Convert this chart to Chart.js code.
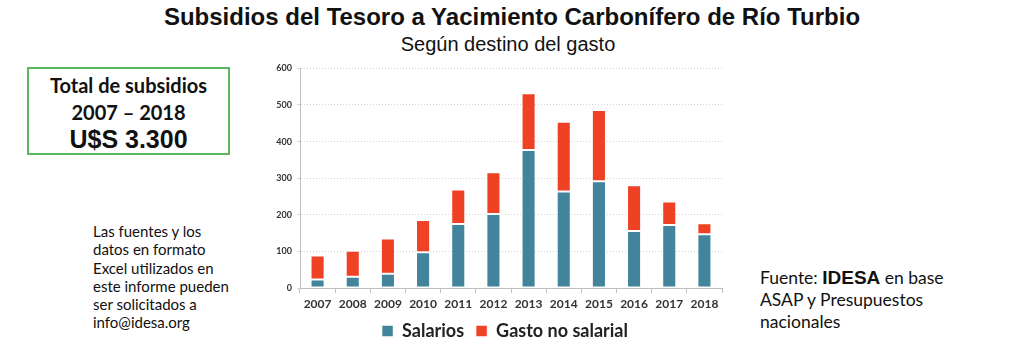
<!DOCTYPE html>
<html>
<head>
<meta charset="utf-8">
<script src="https://cdn.jsdelivr.net/npm/chart.js@4/dist/chart.umd.min.js"></script>
<style>
  body { margin: 0; width: 1024px; height: 350px; background: #fff; position: relative; overflow: hidden; font-family: "Lato", sans-serif; color: #111; }
  .title { position: absolute; left: 0; width: 1024px; top: 3px; text-align: center; font: bold 24px "Liberation Sans", Arial, sans-serif; }
  .subtitle { position: absolute; left: 0; width: 1016px; top: 33px; text-align: center; font: 20px "Liberation Sans", Arial, sans-serif; }
  .totalbox { position: absolute; left: 27px; top: 67px; width: 199px; height: 84px; border: 2px solid #5cb85c; text-align: center; }
  .totalbox .l1 { font: bold 20px "Lato", sans-serif; margin-top: 3px; line-height: 27px; }
  .totalbox .l3 { font: bold 25px "Liberation Sans", Arial, sans-serif; line-height: 26px; }
  .note { position: absolute; left: 93px; top: 222px; font: 15px "Lato", sans-serif; line-height: 18.3px; }
  .source { position: absolute; left: 760px; top: 267px; font: 17.5px "Lato", sans-serif; line-height: 21.5px; }
  .source b { font: bold 19px "Liberation Sans", Arial, sans-serif; }
  .chart-wrap { position: absolute; left: 260px; top: 58px; width: 490px; height: 292px; }
</style>
</head>
<body>
<div class="title">Subsidios del Tesoro a Yacimiento Carbonífero de Río Turbio</div>
<div class="subtitle">Según destino del gasto</div>
<div class="totalbox">
  <div class="l1">Total de subsidios<br>2007 – 2018</div>
  <div class="l3">U$S 3.300</div>
</div>
<div class="note">Las fuentes y los<br>datos en formato<br>Excel utilizados en<br>este informe pueden<br>ser solicitados a<br>info@idesa.org</div>
<div class="source">Fuente: <b>IDESA</b> en base<br>ASAP y Presupuestos<br>nacionales</div>
<div class="chart-wrap"><canvas id="chart"></canvas></div>
<script>
const years = ['2007', '2008', '2009', '2010', '2011', '2012', '2013', '2014', '2015', '2016', '2017', '2018'];
const salarios = [23, 31, 39, 98, 175, 202, 377, 264, 292, 156, 172, 147];
const gastoNoSalarial = [66, 71, 96, 88, 94, 114, 155, 190, 194, 125, 64, 30];
const yTicks = [0, 100, 200, 300, 400, 500, 600];

const ctx = document.getElementById('chart').getContext('2d');
new Chart(ctx, {
  type: 'bar',
  data: {
    labels: years,
    datasets: [
      {
        label: 'Salarios',
        data: salarios,
        backgroundColor: '#41849b',
        borderColor: 'rgba(255,255,255,0.5)',
        borderWidth: 1,
        borderSkipped: false,
        barPercentage: 0.4,
        categoryPercentage: 1
      },
      {
        label: 'Gasto no salarial',
        data: gastoNoSalarial,
        backgroundColor: '#ef4123',
        borderColor: 'rgba(255,255,255,0.5)',
        borderWidth: 1,
        borderSkipped: false,
        barPercentage: 0.4,
        categoryPercentage: 1
      }
    ]
  },
  options: {
    responsive: true,
    maintainAspectRatio: false,
    animation: false,
    layout: { padding: { top: 2, bottom: 0, left: 0, right: 0 } },
    plugins: {
      legend: {
        position: 'bottom',
        labels: {
          color: '#222',
          font: { family: 'Lato', size: 18, weight: 'bold' },
          boxWidth: 11,
          boxHeight: 11,
          padding: 12
        }
      },
      tooltip: { enabled: false }
    },
    scales: {
      x: {
        stacked: true,
        afterFit: (scale) => { scale.height = 22; },
        grid: { offset: true, drawOnChartArea: false, color: '#bfbfbf', tickLength: 5 },
        border: { color: '#bfbfbf' },
        ticks: { color: '#333', font: { family: 'Lato', size: 12, weight: 'bold' }, padding: 4, maxRotation: 0 }
      },
      y: {
        stacked: true,
        min: 0,
        max: 600,
        afterBuildTicks: (scale) => { scale.ticks = yTicks.map(v => ({ value: v })); },
        afterFit: (scale) => { scale.width = 40; },
        grid: { color: '#d4d4d4', tickLength: 3 },
        border: { color: '#bfbfbf', dash: [1, 2] },
        ticks: { color: '#333', font: { family: 'Lato', size: 9, weight: 'bold' }, padding: 5 }
      },
      yr: {
        position: 'right',
        display: true,
        grid: { display: false },
        border: { display: false },
        ticks: { display: false },
        afterFit: (scale) => { scale.width = 28; }
      }
    }
  }
});
</script>
</body>
</html>
